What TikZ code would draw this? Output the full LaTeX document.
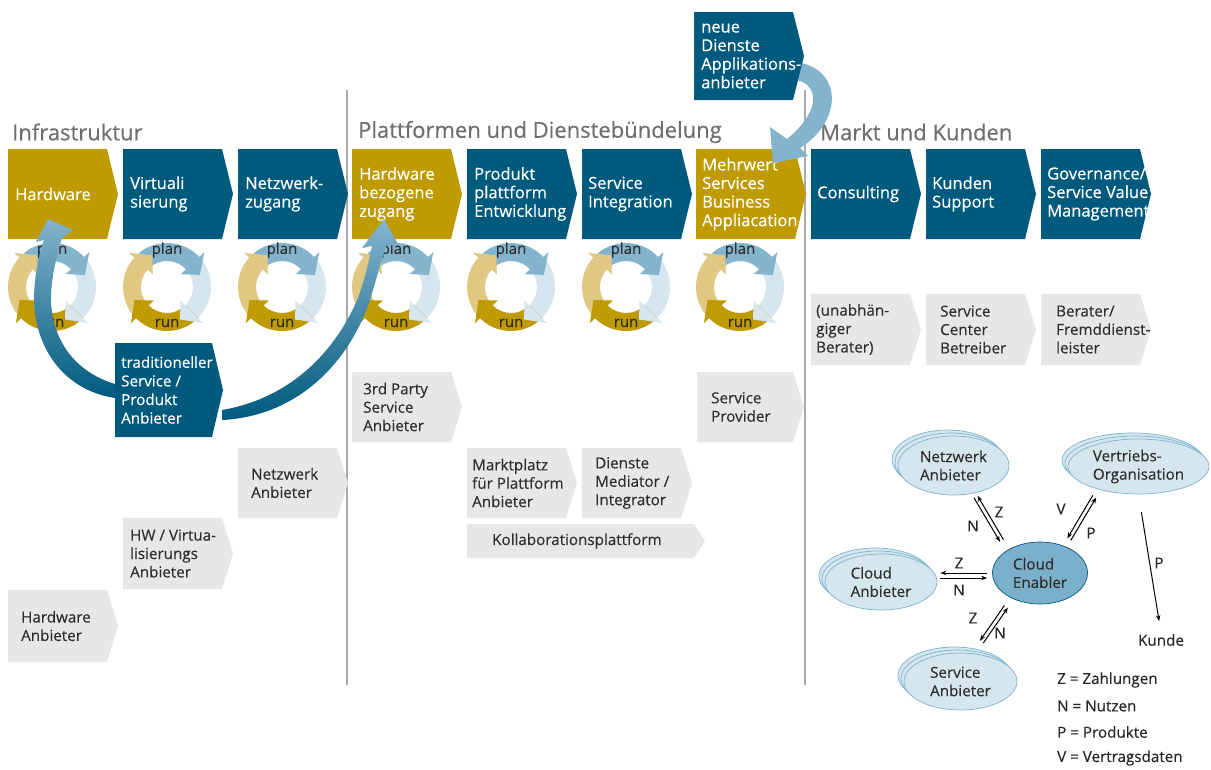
\documentclass[tikz,border=0pt]{standalone}
\usepackage{fontspec}
\setmainfont{Open Sans}[FakeBold=0.3]
\usetikzlibrary{calc,arrows.meta,shapes.geometric}
\definecolor{dblue}{HTML}{005A7D}
\definecolor{gold}{HTML}{BF9A00}
\definecolor{lgray}{HTML}{E6E7E8}
\definecolor{mblue}{HTML}{84B4CD}
\definecolor{pblue}{HTML}{D5E6EF}
\definecolor{pgold}{HTML}{E0C882}
\definecolor{txt}{HTML}{2E2E2E}
\definecolor{ttlc}{HTML}{6D6E71}
\definecolor{sepc}{HTML}{AAAAAA}
\definecolor{ellfill}{HTML}{D6E6EF}
\definecolor{elldraw}{HTML}{7DB3CC}
\definecolor{cefill}{HTML}{7AB0C9}
\tikzset{
  hdr/.style={text=white, font=\fontsize{16.5}{18.6}\selectfont},
  gtxt/.style={text=txt, font=\fontsize{15.2}{18.4}\selectfont},
  wtxt/.style={text=white, font=\fontsize{15.2}{18.6}\selectfont},
  lbl/.style={text=black!85, font=\fontsize{15.2}{18}\selectfont, inner sep=1pt},
  ringtxt/.style={text=txt, font=\fontsize{15}{18}\selectfont, inner sep=0pt},
  ttl/.style={text=ttlc, font=\fontsize{22}{26}\selectfont, anchor=west, inner sep=0pt},
  sepline/.style={draw=sepc, line width=1.4pt},
  ell/.style={ellipse, draw=elldraw, fill=ellfill, line width=0.7pt, inner sep=0pt,
              align=left, text=txt, font=\fontsize{15.2}{18.4}\selectfont},
  arr/.style={-{Stealth[length=6pt,width=4.5pt]}, line width=1pt, black},
}
% name, x, y, body width, height, fill colour, text style, text inset, text
\newcommand\chevbox[9]{%
  \fill[#6] (#2,#3) -- ++(#4,0) -- ++(11,{#5/2}) -- ++(-11,{#5/2}) -- ++(-#4,0) -- cycle;
  \node[#7, anchor=west, align=left, inner sep=0pt] (#1) at ({#2+#8},{#3+#5/2}) {#9};
}
% x centre, name suffix
\newcommand\plancycle[2]{%
\begin{scope}[shift={(#1,287)},yscale=-1]
 \fill[pgold] (-135:44) arc[start angle=-135,end angle=-222,radius=44] -- (-222:26) arc[start angle=-222,end angle=-135,radius=26] -- cycle;
 \fill[pblue] (43:44) arc[start angle=43,end angle=-45,radius=44] -- (-45:26) arc[start angle=-45,end angle=43,radius=26] -- cycle;
 \fill[mblue] (130:44) arc[start angle=130,end angle=43,radius=44] -- (43:26) arc[start angle=43,end angle=130,radius=26] -- cycle;
 \fill[gold] (-45:44) arc[start angle=-45,end angle=-135,radius=44] -- (-135:26) arc[start angle=-135,end angle=-45,radius=26] -- cycle;
 \fill[mblue] (43:19) -- (43:51) -- (20:35) -- cycle;
 \fill[pblue] (-45:19) -- (-45:51) -- (-68:35) -- cycle;
 \fill[gold] (-135:19) -- (-135:51) -- (-158:35) -- cycle;
 \fill[pgold] (138:19) -- (138:51) -- (115:35) -- cycle;
\end{scope}
\node[ringtxt] (plan#2) at (#1,250) {plan};
\node[ringtxt] (run#2) at (#1,323) {run};
}
\begin{document}
\begin{tikzpicture}[x=1pt,y=-1pt]
\fill[white] (0,0) rectangle (1211,769);
\useasboundingbox (0,0) rectangle (1211,769);

% separators
\draw[sepline] (347,90) -- (347,685);
\draw[sepline] (805,90) -- (805,685);

% section titles
\node[ttl] (t1) at (12,132) {Infrastruktur};
\node[ttl] (t2) at (358,132) {Plattformen und Dienstebündelung};
\node[ttl] (t3) at (820,132) {Markt und Kunden};

% header row
\chevbox{h1}{8}{149}{99}{90}{gold}{hdr}{7}{Hardware}
\chevbox{h2}{123}{149}{99}{90}{dblue}{hdr}{7}{Virtuali\\sierung}
\chevbox{h3}{238}{149}{99}{90}{dblue}{hdr}{7}{Netzwerk-\\zugang}
\chevbox{h4}{352}{149}{99}{90}{gold}{hdr}{7}{Hardware\\bezogene\\zugang}
\chevbox{h5}{467}{149}{99}{90}{dblue}{hdr}{7}{Produkt\\plattform\\Entwicklung}
\chevbox{h6}{582}{149}{99}{90}{dblue}{hdr}{6}{Service\\Integration}
\chevbox{h7}{696}{149}{99}{90}{gold}{hdr}{6}{Mehrwert\\Services\\Business\\Appliacation}
\chevbox{h8}{811}{149}{99}{90}{dblue}{hdr}{6}{Consulting}
\chevbox{h9}{926}{149}{99}{90}{dblue}{hdr}{6}{Kunden\\Support}
\chevbox{h10}{1041}{149}{99}{90}{dblue}{hdr}{6}{Governance/\\Service Value\\Management}

% plan/run cycles
\plancycle{52}{a}
\plancycle{167}{b}
\plancycle{282}{c}
\plancycle{396}{d}
\plancycle{511}{e}
\plancycle{626}{f}
\plancycle{740}{g}

% grey boxes
\chevbox{g1}{811}{294}{99}{71}{lgray}{gtxt}{5}{(unabhän-\\giger\\Berater)}
\chevbox{g2}{926}{294}{99}{71}{lgray}{gtxt}{14}{Service\\Center\\Betreiber}
\chevbox{g3}{1041}{294}{99}{71}{lgray}{gtxt}{15}{Berater/\\Fremddienst-\\leister}
\chevbox{g4}{352}{372}{99}{70}{lgray}{gtxt}{11}{3rd Party\\Service\\Anbieter}
\chevbox{g5}{697}{372}{96}{70}{lgray}{gtxt}{14}{Service\\Provider}
\chevbox{g6}{238}{448}{99}{70}{lgray}{gtxt}{13}{Netzwerk\\Anbieter}
\chevbox{g7}{467}{448}{99}{70}{lgray}{gtxt}{5}{Marktplatz\\für Plattform\\Anbieter}
\chevbox{g8}{582}{448}{99}{70}{lgray}{gtxt}{13}{Dienste\\Mediator /\\Integrator}
\chevbox{g9}{467}{524}{227}{34}{lgray}{gtxt}{25}{Kollaborationsplattform}
\chevbox{g10}{123}{518}{99}{71}{lgray}{gtxt}{7}{HW / Virtua-\\lisierungs\\Anbieter}
\chevbox{g11}{8}{590}{99}{72}{lgray}{gtxt}{13}{Hardware\\Anbieter}

% swooshes from the traditional provider
\shade[top color=mblue, bottom color=dblue]
  (115,398) .. controls (62,390) and (33,345) .. (34,295)
  .. controls (35,270) and (40,252) .. (44,240) -- (36,242) -- (48,219) -- (73,230) -- (62,238)
  .. controls (56,258) and (51,278) .. (51,300)
  .. controls (52,340) and (75,372) .. (115,384) -- cycle;
\shade[top color=mblue, bottom color=dblue]
  (222,420) .. controls (300,416) and (350,360) .. (370,300)
  .. controls (376,280) and (381,262) .. (386,246) -- (398,244) -- (384,219) -- (362,248) -- (372,246)
  .. controls (368,265) and (364,282) .. (358,298)
  .. controls (336,350) and (292,398) .. (222,410) -- cycle;
\chevbox{tr}{115}{343}{97}{94}{dblue}{wtxt}{6}{traditioneller\\Service /\\Produkt\\Anbieter}

% swoosh from the new service providers
\fill[mblue] (797,62) .. controls (844,70) and (842,122) .. (800,148) -- (808,156) -- (773,163)
  -- (770,127) -- (787,139) .. controls (820,112) and (820,86) .. (797,80) -- cycle;
\chevbox{nd}{694}{12}{99}{88}{dblue}{hdr}{7}{neue\\Dienste\\Applikations-\\anbieter}

% network of roles
\node[ell, minimum width=111pt, minimum height=59pt] (na2) at (947.5,459.5) {};
\node[ell, minimum width=111pt, minimum height=59pt] (na1) at (950.5,462.5) {};
\node[ell, minimum width=111pt, minimum height=59pt] (na) at (953.5,465.5) {Netzwerk\\Anbieter};
\node[ell, minimum width=141pt, minimum height=55pt] (vo2) at (1132.5,460.5) {};
\node[ell, minimum width=141pt, minimum height=55pt] (vo1) at (1135.5,463.5) {};
\node[ell, minimum width=141pt, minimum height=55pt] (vo) at (1138.5,466.5) {Vertriebs-\\Organisation};
\node[ell, minimum width=112pt, minimum height=56pt] (ca2) at (875,576) {};
\node[ell, minimum width=112pt, minimum height=56pt] (ca1) at (878,579) {};
\node[ell, minimum width=112pt, minimum height=56pt] (ca) at (881,582) {Cloud\\Anbieter};
\node[ell, minimum width=113pt, minimum height=57pt] (sa2) at (954.5,675.5) {};
\node[ell, minimum width=113pt, minimum height=57pt] (sa1) at (957.5,678.5) {};
\node[ell, minimum width=113pt, minimum height=57pt] (sa) at (960.5,681.5) {Service\\Anbieter};
\node[ell, fill=cefill, draw=dblue, minimum width=95pt, minimum height=62pt] (ce) at (1040,573) {Cloud\\Enabler};
\node[lbl] (ku) at (1161,640) {Kunde};

% connectors
\draw[arr, shorten <=11pt, shorten >=4pt] ([shift={(1.7,-1.1)}]ce.145) -- ([shift={(1.7,-1.1)}]na.-54);
\draw[arr, shorten <=4pt, shorten >=11pt] ([shift={(-1.7,1.1)}]na.-54) -- ([shift={(-1.7,1.1)}]ce.145);
\draw[arr, shorten <=8pt, shorten >=8pt] ([shift={(-1.7,-1.1)}]vo.-150) -- ([shift={(-1.7,-1.1)}]ce.47);
\draw[arr, shorten <=8pt, shorten >=8pt] ([shift={(1.7,1.1)}]ce.47) -- ([shift={(1.7,1.1)}]vo.-150);
\draw[arr] ($(ce.west)+(-5,0)$) -- ($(ca.east |- ce.west)+(3,0)$);
\draw[arr] ($(ca.east |- ce.west)+(3,5)$) -- ($(ce.west)+(-5,5)$);
\draw[arr, shorten <=10pt, shorten >=14pt] ([shift={(-1.7,-1.1)}]ce.-138) -- ([shift={(-1.7,-1.1)}]sa.65);
\draw[arr, shorten <=14pt, shorten >=10pt] ([shift={(1.7,1.1)}]sa.65) -- ([shift={(1.7,1.1)}]ce.-138);
\draw[arr, shorten <=18pt, shorten >=12pt] (vo.south) -- (ku.north);

% connector labels
\node[lbl] (lz1) at (999,512) {Z};
\node[lbl] (ln1) at (973,526) {N};
\node[lbl] (lv2) at (1061,509) {V};
\node[lbl] (lp2) at (1091,533) {P};
\node[lbl] (lz3) at (959,563) {Z};
\node[lbl] (ln3) at (959,590) {N};
\node[lbl] (lz4) at (973,618) {Z};
\node[lbl] (ln4) at (1000,633) {N};
\node[lbl] (lp5) at (1159,563) {P};

% legend
\node[lbl, anchor=west] (k1) at (1056,680) {Z = Zahlungen};
\node[lbl, anchor=west] (k2) at (1056,706) {N = Nutzen};
\node[lbl, anchor=west] (k3) at (1056,732) {P = Produkte};
\node[lbl, anchor=west] (k4) at (1056,758) {V = Vertragsdaten};
\end{tikzpicture}
\end{document}
